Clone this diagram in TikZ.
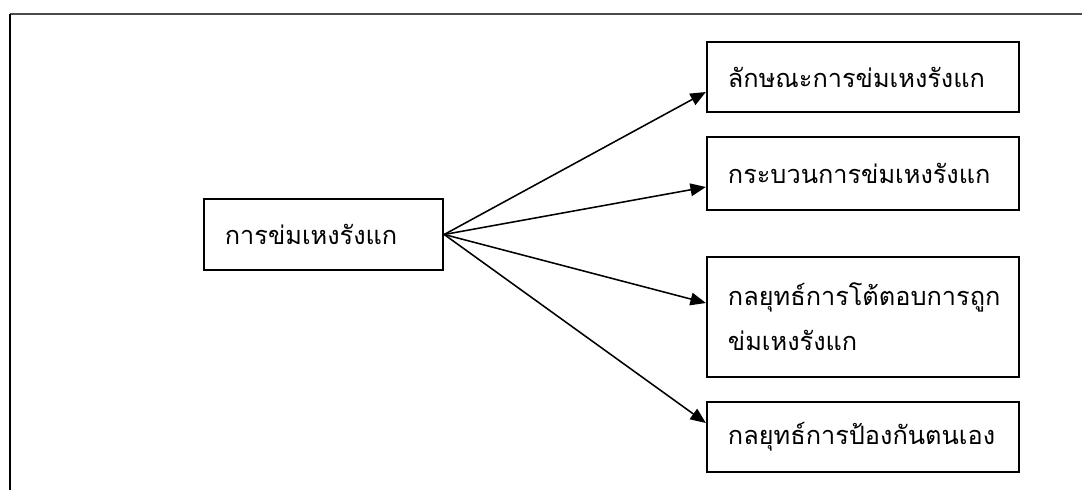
\documentclass[tikz,border=0pt]{standalone}
\usepackage{fontspec}
\newfontfamily\thaifont[Script=Thai]{Loma}
\usetikzlibrary{arrows.meta}

\begin{document}
\begin{tikzpicture}[
  x=0.025cm, y=-0.025cm,
  topic/.style={
    draw, line width=1.8pt, align=left,
    inner xsep=0.52cm, inner ysep=0pt,
    font=\thaifont\fontsize{18pt}{32pt}\selectfont
  },
  sub/.style={topic, text width=6.75cm},
  link/.style={line width=1.1pt, -{Triangle[length=11pt, width=9pt]}}
]
  \useasboundingbox (0,0) rectangle (1082,490);
  \draw[line width=0.9pt, black!70] (10,14) -- (1082,14);
  \draw[line width=1.8pt] (10,14) -- (10,490);
  \node[topic, text width=4.93cm, minimum height=1.78cm] (root) at (323.5,234.5) {การข่มเหงรังแก};
  \foreach \n/\y/\h/\txt/\ty in {
      a/77/1.75/{ลักษณะการข่มเหงรังแก}/92,
      b/173.5/1.82/{กระบวนการข่มเหงรังแก}/187,
      c/317/3/{กลยุทธ์การโต้ตอบการถูก\\ข่มเหงรังแก}/303,
      d/437/1.75/{กลยุทธ์การป้องกันตนเอง}/423} {
    \node[sub, minimum height=\h cm] (\n) at (863,\y) {\txt};
    \coordinate (\n tip) at (\n.west |- 0,\ty);
    \draw[link] (root.east) -- (\n tip);
  }
\end{tikzpicture}
\end{document}
